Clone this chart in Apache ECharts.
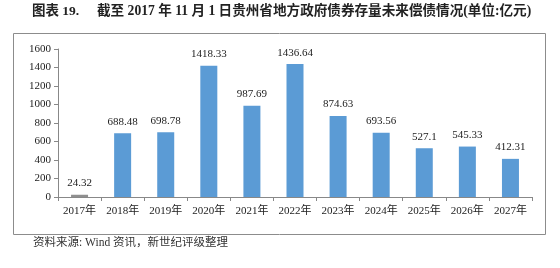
<!DOCTYPE html>
<html><head><meta charset="utf-8">
<script src="https://cdn.jsdelivr.net/npm/echarts@6/dist/echarts.min.js"></script>
<style>html,body{margin:0;padding:0;background:#fff}#c{width:560px;height:268px}</style>
</head><body><div id="c"></div>
<script>
const categories = ['2017年','2018年','2019年','2020年','2021年','2022年','2023年','2024年','2025年','2026年','2027年'];
const values = [24.32, 688.48, 698.78, 1418.33, 987.69, 1436.64, 874.63, 693.56, 527.1, 545.33, 412.31];
const yTicks = [0, 200, 400, 600, 800, 1000, 1200, 1400, 1600];
const titleLabel = '图表 19.';
const titleText = '截至 2017 年 11 月 1 日贵州省地方政府债券存量未来偿债情况(单位:亿元)';
const sourceText = '资料来源: Wind 资讯，新世纪评级整理';

const FONT = '"Liberation Serif","Noto Sans CJK SC",serif';
const chart = echarts.init(document.getElementById('c'));
chart.setOption({
  animation: false,
  grid: {left: 58, right: 28, top: 49, bottom: 71},
  graphic: [
    {type: 'rect', shape: {x: 13.5, y: 33.5, width: 532, height: 201}, style: {fill: 'none', stroke: '#8c8c8c', lineWidth: 1}},
    {type: 'text', left: 32, top: 5, style: {text: titleLabel, font: 'bold 13.5px ' + FONT, fill: '#222'}},
    {type: 'text', left: 97, top: 5, style: {text: titleText, font: 'bold 13.6px ' + FONT, fill: '#222'}},
    {type: 'text', left: 33, top: 237, style: {text: sourceText, font: '11.5px ' + FONT, fill: '#333'}}
  ],
  xAxis: {
    type: 'category', data: categories,
    axisLine: {lineStyle: {color: '#888'}},
    axisTick: {show: true, length: 4, lineStyle: {color: '#888'}},
    axisLabel: {fontFamily: FONT, fontSize: 11, color: '#222', margin: 9}
  },
  yAxis: {
    type: 'value', min: 0, max: 1600, interval: 200,
    axisLine: {show: true, lineStyle: {color: '#888'}},
    axisTick: {show: true, length: 4, lineStyle: {color: '#888'}},
    splitLine: {show: false},
    axisLabel: {fontFamily: FONT, fontSize: 11, color: '#222', margin: 7,
      formatter: v => yTicks.includes(v) ? String(v) : ''}
  },
  series: [{
    type: 'bar', barWidth: 17,
    data: values.map((v, i) => ({value: v, itemStyle: {color: i === 0 ? '#8f8f8f' : '#5b9bd5'}})),
    label: {show: true, position: 'top', distance: 6, fontFamily: FONT, fontSize: 11, color: '#222'}
  }]
});
</script></body></html>
